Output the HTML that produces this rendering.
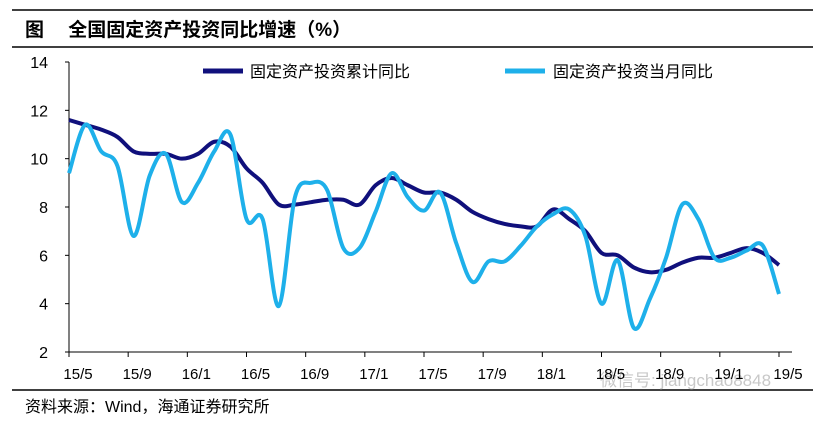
<!DOCTYPE html>
<html><head><meta charset="utf-8"><style>
body{margin:0;background:#fff;width:825px;height:421px;overflow:hidden;font-family:"Liberation Sans","Noto Sans CJK SC",sans-serif;}
svg{display:block}
</style></head><body>
<svg id="chart" width="825" height="421">
<line x1="12" y1="10" x2="813" y2="10" stroke="#000" stroke-width="1.5"/>
<text x="25" y="36" font-size="19" font-weight="bold" font-family="Liberation Sans, Noto Sans CJK SC, sans-serif">图　 全国固定资产投资同比增速（%）</text>
<line x1="12" y1="47" x2="813" y2="47" stroke="#000" stroke-width="1.5"/>
<line x1="12" y1="390" x2="813" y2="390" stroke="#000" stroke-width="1.5"/>
<text x="25" y="412" font-size="16" font-family="Liberation Sans, Noto Sans CJK SC, sans-serif">资料来源：Wind，海通证券研究所</text>
<text x="600" y="386" font-size="17" fill="#c8c8c8" font-family="Liberation Sans, Noto Sans CJK SC, sans-serif">微信号: jiangchao8848</text>
<g id="axes"></g>
<g id="series"></g>
<g>
<line x1="203" y1="71" x2="243" y2="71" stroke="#10107c" stroke-width="5"/>
<text x="250" y="77" font-size="16" font-family="Liberation Sans, Noto Sans CJK SC, sans-serif">固定资产投资累计同比</text>
<line x1="505" y1="71" x2="545" y2="71" stroke="#1eb0ea" stroke-width="5"/>
<text x="553" y="77" font-size="16" font-family="Liberation Sans, Noto Sans CJK SC, sans-serif">固定资产投资当月同比</text>
</g>
</svg>
<script>
const categories = ["15/5","15/6","15/7","15/8","15/9","15/10","15/11","15/12","16/2","16/3","16/4","16/5","16/6","16/7","16/8","16/9","16/10","16/11","16/12","17/2","17/3","17/4","17/5","17/6","17/7","17/8","17/9","17/10","17/11","17/12","18/2","18/3","18/4","18/5","18/6","18/7","18/8","18/9","18/10","18/11","18/12","19/2","19/3","19/4","19/5"];
const cumulative = [11.6,11.4,11.2,10.9,10.3,10.2,10.2,10.0,10.2,10.7,10.5,9.6,9.0,8.1,8.1,8.2,8.3,8.3,8.1,8.9,9.2,8.9,8.6,8.6,8.3,7.8,7.5,7.3,7.2,7.2,7.9,7.5,7.0,6.1,6.0,5.5,5.3,5.4,5.7,5.9,5.9,6.1,6.3,6.1,5.6];
const monthly = [9.4,11.4,10.3,9.7,6.8,9.3,10.2,8.2,9.0,10.3,11.0,7.5,7.5,3.9,8.4,9.0,8.7,6.3,6.3,7.8,9.4,8.4,7.85,8.6,6.5,4.9,5.75,5.75,6.4,7.2,7.7,7.9,6.8,4.0,5.8,3.0,4.2,5.9,8.1,7.5,5.9,5.9,6.2,6.4,4.4];
const yTicks = [2,4,6,8,10,12,14];
const xTickLabels = ["15/5","15/9","16/1","16/5","16/9","17/1","17/5","17/9","18/1","18/5","18/9","19/1","19/5"];

const NS="http://www.w3.org/2000/svg";
const X0=69,X1=779,Y0=352,Y1=62,YMIN=2,YMAX=14;
function xs(i){return X0+(X1-X0)*i/(categories.length-1);}
function xt(k){return X0+(X1-X0)*k/(xTickLabels.length-1);}
function ys(v){return Y0-(v-YMIN)/(YMAX-YMIN)*(Y0-Y1);}
function mk(tag,attrs,parent){const e=document.createElementNS(NS,tag);for(const k in attrs)e.setAttribute(k,attrs[k]);parent.appendChild(e);return e;}
const axes=document.getElementById('axes');
let a=mk('line',{x1:X0,y1:Y1,x2:X0,y2:Y0,stroke:'#000','stroke-width':1},axes);


a=mk('line',{x1:X0,y1:Y0,x2:792,y2:Y0,stroke:'#000','stroke-width':1},axes);


yTicks.forEach(v=>{
  const t=mk('line',{x1:X0-4,y1:ys(v),x2:X0,y2:ys(v),stroke:'#000'},axes);
  
  
  const l=mk('text',{x:48,y:ys(v)+6,'font-size':16,'text-anchor':'end'},axes);
  l.textContent=v;
  
  
});
xTickLabels.forEach((lab,k)=>{
  const x=xt(k);
  const t=mk('line',{x1:x,y1:Y0,x2:x,y2:Y0+5,stroke:'#000'},axes);
  
  
  const l=mk('text',{x:x+9,y:379,'font-size':15,'text-anchor':'middle'},axes);
  l.textContent=lab;
  
  
});
function smooth(vals){
  const p=vals.map((v,i)=>[xs(i),ys(v)]);
  let d=`M${p[0][0]},${p[0][1]}`;
  for(let i=0;i<p.length-1;i++){
    const p0=p[i-1]||p[i],p1=p[i],p2=p[i+1],p3=p[i+2]||p2;
    const c1=[p1[0]+(p2[0]-p0[0])/6,p1[1]+(p2[1]-p0[1])/6];
    const c2=[p2[0]-(p3[0]-p1[0])/6,p2[1]-(p3[1]-p1[1])/6];
    d+=` C${c1[0]},${c1[1]} ${c2[0]},${c2[1]} ${p2[0]},${p2[1]}`;
  }
  return d;
}
const sg=document.getElementById('series');
let s=mk('path',{d:smooth(cumulative),fill:'none',stroke:'#10107c','stroke-width':4,'stroke-linejoin':'round'},sg);


s=mk('path',{d:smooth(monthly),fill:'none',stroke:'#1eb0ea','stroke-width':4,'stroke-linejoin':'round'},sg);


</script>
</body></html>
